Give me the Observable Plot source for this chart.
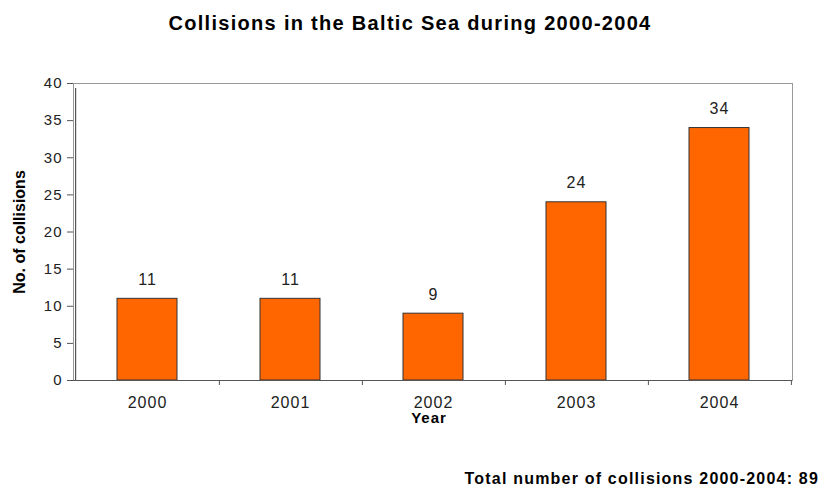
<!DOCTYPE html>
<html>
<head>
<meta charset="utf-8">
<script src="https://cdn.jsdelivr.net/npm/d3@7"></script>
<script src="https://cdn.jsdelivr.net/npm/@observablehq/plot@0.6"></script>
<style>
  html, body { margin: 0; padding: 0; background: #fff; }
  body { width: 820px; height: 488px; overflow: hidden; font-family: "Liberation Sans", Arial, sans-serif; }
  #title { box-sizing: border-box; height: 44px; padding-top: 13px; line-height: 20px; font-size: 20px; font-weight: bold; letter-spacing: 1.3px; text-align: center; color: #000; }
  #footer { box-sizing: border-box; height: 44px; padding-top: 27px; line-height: 16px; font-size: 16px; font-weight: bold; letter-spacing: 1.2px; text-align: right; padding-right: 1px; color: #000; }
  #chart svg { display: block; }
  #chart svg text { letter-spacing: 1px; }
</style>
</head>
<body>
<div id="title"></div>
<div id="chart"></div>
<div id="footer"></div>
<script>
const titleText = "Collisions in the Baltic Sea during 2000-2004";
const footerText = "Total number of collisions 2000-2004: 89";
const yLabel = "No. of collisions";
const xLabel = "Year";
const years = ["2000", "2001", "2002", "2003", "2004"];
const collisions = [11, 11, 9, 24, 34];
const yTicks = [0, 5, 10, 15, 20, 25, 30, 35, 40];

document.getElementById("title").textContent = titleText;
document.getElementById("footer").textContent = footerText;

const data = years.map((year, i) => ({year, count: collisions[i]}));

const W = 820, H = 400, mL = 73, mR = 28, mT = 39, mB = 64;
const step = (W - mL - mR) / years.length;

const chart = Plot.plot({
  width: W,
  height: H,
  marginLeft: mL,
  marginRight: mR,
  marginTop: mT,
  marginBottom: mB,
  style: {fontFamily: "'Liberation Sans', Arial, sans-serif", fontSize: "16px", color: "#222", background: "#fff"},
  x: {domain: years, paddingInner: 0.583, paddingOuter: 0.2915, align: 0.5},
  y: {domain: [0, 40]},
  marks: [
    Plot.frame({stroke: "#999"}),
    Plot.axisY({ticks: yTicks, tickSize: 6, tickPadding: 5, stroke: "#555", fill: "#222", fontSize: 15, label: null}),
    Plot.axisX({tickSize: 0, tickPadding: 16, fill: "#222", fontSize: 16, label: null}),
    Plot.barY(data, {x: "year", y: "count", fill: "#FF6600", stroke: "#333", strokeWidth: 1}),
    Plot.ruleY([0], {stroke: "#555", strokeWidth: 1.2}),
    Plot.ruleX(years.slice(0, 1), {x: d => d, dx: -step / 2, y1: 0, y2: 40, insetBottom: -5, stroke: "#555", strokeWidth: 1.2}),
    Plot.ruleX(years, {x: d => d, dx: step / 2, y1: 0, y2: 0, insetBottom: -5, stroke: "#555"}),
    Plot.text(data, {x: "year", y: "count", text: d => String(d.count), dy: -19, fill: "#222", fontSize: 16}),
    Plot.text([xLabel], {frameAnchor: "bottom", lineAnchor: "middle", textAnchor: "middle", dx: -4, dy: 38, text: d => d, fontWeight: "bold", fill: "#000", fontSize: 15}),
    Plot.text([yLabel], {frameAnchor: "left", lineAnchor: "middle", textAnchor: "middle", dx: -54, text: d => d, rotate: -90, fontWeight: "bold", fill: "#000", fontSize: 16})
  ]
});
chart.querySelectorAll("text").forEach(t => {
  const tr = t.getAttribute("transform") || "";
  if (tr.includes("rotate")) t.style.letterSpacing = "0px";
});
document.getElementById("chart").appendChild(chart);
</script>
</body>
</html>
